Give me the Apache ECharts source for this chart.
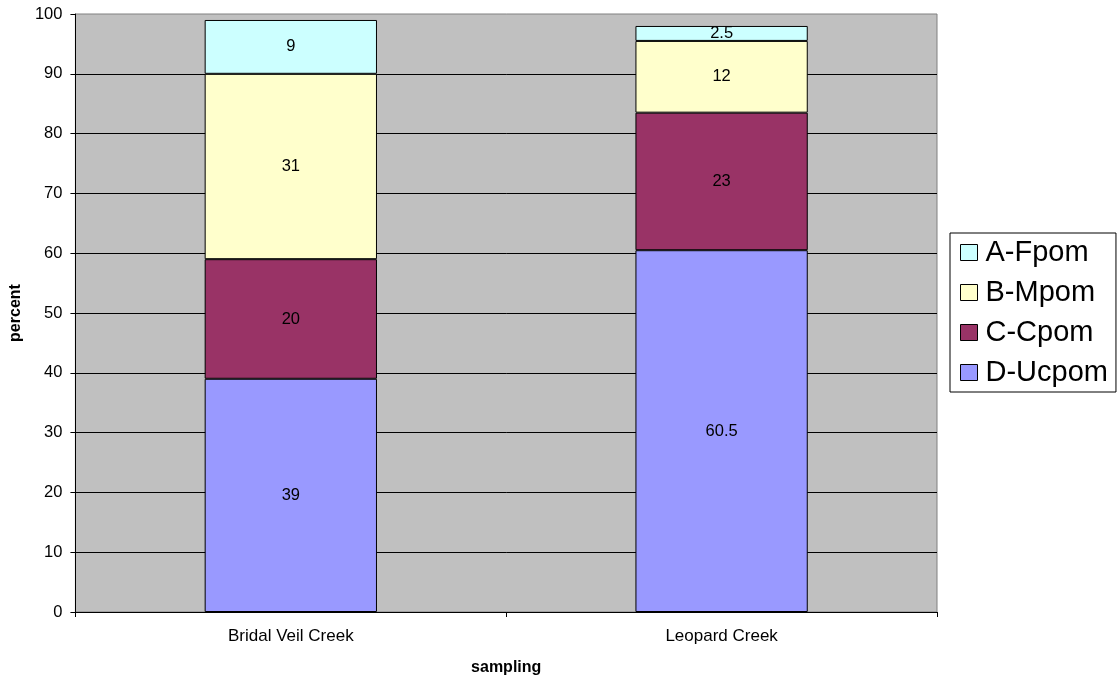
<!DOCTYPE html>
<html><head><meta charset="utf-8">
<script src="https://cdn.jsdelivr.net/npm/echarts@6/dist/echarts.min.js"></script>
<style>html,body{margin:0;padding:0;background:#fff}#c{width:1120px;height:681px}</style>
</head><body><div id="c"></div>
<script>
const categories = ['Bridal Veil Creek', 'Leopard Creek'];
const seriesNames = ['D-Ucpom', 'C-Cpom', 'B-Mpom', 'A-Fpom'];
const dUcpom = [39, 60.5];
const cCpom = [20, 23];
const bMpom = [31, 12];
const aFpom = [9, 2.5];
const yTicks = [0, 10, 20, 30, 40, 50, 60, 70, 80, 90, 100];

const colors = { 'D-Ucpom': '#9999FF', 'C-Cpom': '#993366', 'B-Mpom': '#FFFFCC', 'A-Fpom': '#CCFFFF' };
const values = { 'D-Ucpom': dUcpom, 'C-Cpom': cCpom, 'B-Mpom': bMpom, 'A-Fpom': aFpom };
const font = 'Liberation Sans, Arial, sans-serif';

const chart = echarts.init(document.getElementById('c'), null, { renderer: 'canvas' });
chart.setOption({
  animation: false,
  backgroundColor: '#fff',
  grid: { left: 75, right: 183, top: 14, bottom: 69, show: true, backgroundColor: '#C0C0C0', borderColor: '#808080', borderWidth: 1 },
  legend: {
    orient: 'vertical', left: 950, top: 233,
    data: ['A-Fpom', 'B-Mpom', 'C-Cpom', 'D-Ucpom'],
    icon: 'rect', itemWidth: 17, itemHeight: 16, itemGap: 11,
    itemStyle: { borderColor: '#000', borderWidth: 1 },
    textStyle: { fontFamily: font, fontSize: 29, color: '#000', padding: [0, 0, 0, 3] },
    borderColor: '#000', borderWidth: 1, padding: [5, 8, 5, 10],
    selectedMode: false
  },
  xAxis: {
    type: 'category', data: categories,
    name: 'sampling', nameLocation: 'middle', nameGap: 48,
    nameTextStyle: { fontFamily: font, fontSize: 16, fontWeight: 'bold', color: '#000' },
    axisLine: { lineStyle: { color: '#000', width: 1 } },
    axisTick: { show: true, alignWithLabel: false, length: 5, lineStyle: { color: '#000' } },
    axisLabel: { fontFamily: font, fontSize: 17, color: '#000', margin: 16 },
    splitLine: { show: false }
  },
  yAxis: {
    type: 'value', min: yTicks[0], max: yTicks[yTicks.length - 1], interval: 10,
    name: 'percent', nameLocation: 'middle', nameGap: 50, nameRotate: 90,
    nameTextStyle: { fontFamily: font, fontSize: 16, fontWeight: 'bold', color: '#000' },
    axisLine: { show: true, lineStyle: { color: '#000', width: 1 } },
    axisTick: { show: true, length: 5, lineStyle: { color: '#000' } },
    axisLabel: { fontFamily: font, fontSize: 16.5, color: '#000', margin: 13 },
    splitLine: { show: true, showMaxLine: false, lineStyle: { color: '#000', width: 1 } }
  },
  series: seriesNames.map(n => ({
    name: n, type: 'bar', stack: 'total', data: values[n], barWidth: '40%',
    itemStyle: { color: colors[n], borderColor: '#000', borderWidth: 1 },
    label: { show: true, position: 'inside', fontFamily: font, fontSize: 16.5, color: '#000' }
  }))
});
</script></body></html>
